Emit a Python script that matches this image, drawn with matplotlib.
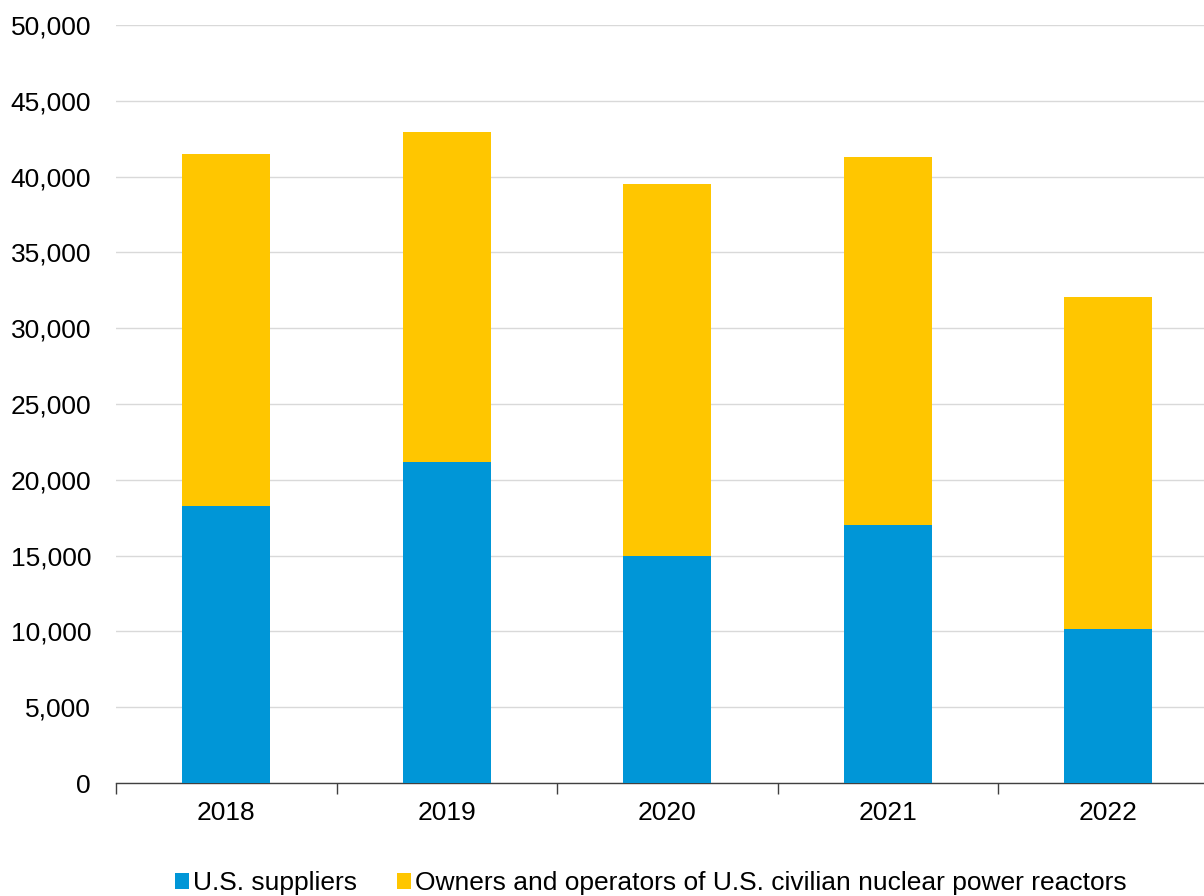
import matplotlib
matplotlib.use("Agg")
import matplotlib.pyplot as plt
import numpy as np

years = ["2018", "2019", "2020", "2021", "2022"]
us_suppliers = [18270, 21170, 14970, 17020, 10160]
totals = [41490, 42940, 39510, 41290, 32060]
owners_operators = [t - s for t, s in zip(totals, us_suppliers)]

plt.rcParams['font.family'] = ['Liberation Sans', 'DejaVu Sans']

fig = plt.figure(figsize=(12.04, 8.96), dpi=100)
ax = fig.add_axes([116/1204, 113/896, 1102.5/1204, 758/896])

x = np.arange(len(years))
blue = "#0096d7"
yellow = "#ffc600"
b1 = ax.bar(x, us_suppliers, width=0.4, color=blue, label="U.S. suppliers", zorder=3)
b2 = ax.bar(x, owners_operators, width=0.4, bottom=us_suppliers, color=yellow,
            label="Owners and operators of U.S. civilian nuclear power reactors", zorder=3)

ax.set_xlim(-0.5, len(years) - 0.5)
ax.set_ylim(0, 50000)
ax.set_yticks(np.arange(0, 50001, 5000))
ax.set_yticklabels([f"{v:,}" for v in range(0, 50001, 5000)])
ax.yaxis.grid(True, color="#d9d9d9", linewidth=1, zorder=0)
ax.set_xticks(x)
ax.set_xticklabels(years)
ax.set_xticks(np.arange(-0.5, len(years)), minor=True)
ax.tick_params(axis='x', which='major', length=0, pad=13, labelsize=19)
ax.tick_params(axis='x', which='minor', length=8, width=1, color="#404040", direction='out')
ax.tick_params(axis='y', length=0, pad=18, labelsize=19)
for s in ["left", "right", "top"]:
    ax.spines[s].set_visible(False)
ax.spines["bottom"].set_color("#404040")
ax.spines["bottom"].set_linewidth(1)

fig.legend(handles=[b1, b2], loc="center", bbox_to_anchor=(651/1204, 13/896), ncol=2,
           frameon=False, fontsize=19, handlelength=0.55, handleheight=0.55,
           handletextpad=0.15, columnspacing=1.5)

fig.savefig("out.png", dpi=100)
